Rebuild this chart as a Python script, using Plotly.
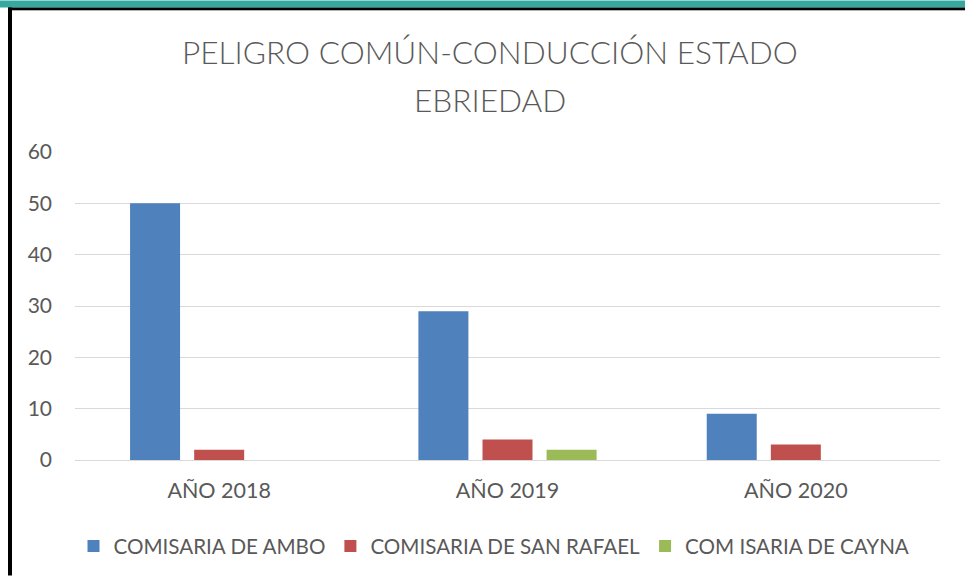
import plotly.graph_objects as go

categories = ["AÑO 2018", "AÑO 2019", "AÑO 2020"]
series_names = ["COMISARIA DE AMBO", "COMISARIA DE SAN RAFAEL", "COM ISARIA DE CAYNA"]
ambo = [50, 29, 9]
san_rafael = [2, 4, 3]
cayna = [0, 2, 0]
colors = ["#4F81BD", "#C0504D", "#9BBB59"]
y_ticks = [0, 10, 20, 30, 40, 50, 60]
title_lines = ["PELIGRO COMÚN-CONDUCCIÓN ESTADO", "EBRIEDAD"]

W, H = 965, 577
L, R, T, B = 75, 25, 152, 116
pw, ph = W - L - R, H - T - B

def px_x(x):
    return (x - L) / pw

def px_y(y):
    return (H - B - y) / ph

fig = go.Figure()
for name, vals, c in zip(series_names, [ambo, san_rafael, cayna], colors):
    fig.add_trace(go.Bar(x=categories, y=vals, name=name, marker_color=c,
                         marker_line_width=0))

font_fam = "Lato, Open Sans, sans-serif"
annotations = [
    dict(text=title_lines[0], xref="paper", yref="paper", x=px_x(490), y=px_y(52),
         xanchor="center", yanchor="middle", showarrow=False,
         font=dict(family=font_fam, size=31.6, color="#595959", weight=300)),
    dict(text=title_lines[1], xref="paper", yref="paper", x=px_x(490), y=px_y(100),
         xanchor="center", yanchor="middle", showarrow=False,
         font=dict(family=font_fam, size=31.6, color="#595959", weight=300)),
]

fig.update_layout(
    width=W, height=H,
    margin=dict(l=L, r=R, t=T, b=B),
    paper_bgcolor="white", plot_bgcolor="white",
    barmode="group", bargap=0.333, bargroupgap=0.22,
    font=dict(family=font_fam, size=20, color="#595959"),
    annotations=annotations,
    legend=dict(orientation="h", x=px_x(494), xanchor="center", y=px_y(546), yanchor="middle",
                font=dict(size=20.6, color="#595959"), itemwidth=30, traceorder="normal"),
    xaxis=dict(showgrid=False, showline=False, ticks="", tickfont=dict(size=21.5),
               ticklabelstandoff=15),
    yaxis=dict(range=[0, 60], tickvals=y_ticks, showgrid=True, gridcolor="#D9D9D9",
               gridwidth=1, zeroline=True, zerolinecolor="#D9D9D9", zerolinewidth=1,
               ticks="", tickfont=dict(size=21), ticklabelstandoff=22),
    shapes=[
        dict(type="rect", xref="paper", yref="paper", x0=px_x(0), x1=px_x(W),
             y0=px_y(7), y1=px_y(0), fillcolor="#35A89F", line_width=0, layer="above"),
        dict(type="line", xref="paper", yref="paper", x0=px_x(8), x1=px_x(W),
             y0=px_y(9.8), y1=px_y(9.8), line=dict(color="#999999", width=1), layer="above"),
        dict(type="line", xref="paper", yref="paper", x0=px_x(8), x1=px_x(W),
             y0=px_y(8.2), y1=px_y(8.2), line=dict(color="black", width=2.5), layer="above"),
        dict(type="line", xref="paper", yref="paper", x0=px_x(10), x1=px_x(10),
             y0=px_y(H), y1=px_y(7), line=dict(color="black", width=4), layer="above"),
    ],
)
fig.write_html("out.html", config={"displayModeBar": False},
               post_script="document.body.style.margin='0';")
